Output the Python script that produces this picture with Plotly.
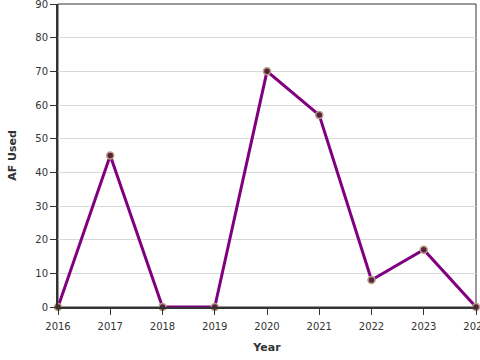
import plotly.graph_objects as go

years = [2016, 2017, 2018, 2019, 2020, 2021, 2022, 2023, 2024]
af_used = [0, 45, 0, 0, 70, 57, 8, 17, 0]
y_ticks = [0, 10, 20, 30, 40, 50, 60, 70, 80, 90]

fig = go.Figure()
fig.add_trace(go.Scatter(
    x=years, y=af_used, mode="lines+markers",
    line=dict(color="#800080", width=3),
    marker=dict(size=7, color="#5a2040", line=dict(color="#b8a080", width=1.5)),
    cliponaxis=False, showlegend=False,
))

font_fam = "DejaVu Sans, sans-serif"
fig.update_layout(
    width=480, height=360,
    margin=dict(l=58, r=4, t=4, b=53),
    paper_bgcolor="white", plot_bgcolor="white",
    font=dict(family=font_fam, size=10, color="#333"),
    xaxis=dict(
        range=[2016, 2024], tickvals=years, ticktext=[str(y) for y in years],
        showgrid=False, zeroline=False, automargin=False, ticklabeloverflow="allow",
        showline=True, linecolor="#333", linewidth=2,
        ticks="outside", ticklen=6, tickcolor="#333", ticklabelstandoff=3,
        title=dict(text="<b>Year</b>", font=dict(size=11, color="#333"), standoff=12),
    ),
    yaxis=dict(
        range=[0, 90], tickvals=y_ticks, automargin=False, ticklabeloverflow="allow",
        showgrid=True, gridcolor="#d9d9d9", gridwidth=1, zeroline=False,
        showline=True, linecolor="#333", linewidth=2,
        ticks="outside", ticklen=6, tickcolor="#333",
        title=dict(text="<b>AF Used</b>", font=dict(size=11, color="#333"), standoff=16),
    ),
    shapes=[dict(type="rect", xref="paper", yref="paper", x0=0, x1=1, y0=0, y1=1,
                 line=dict(color="#333", width=1), layer="below")],
)
fig.write_html("out.html", config={"displayModeBar": False},
               post_script="document.body.style.margin='0';")
